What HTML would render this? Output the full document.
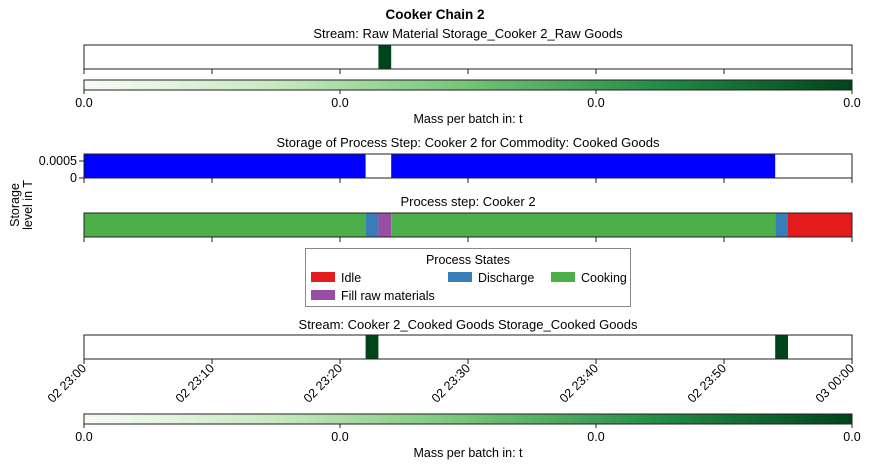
<!DOCTYPE html>
<html><head><meta charset="utf-8"><style>
body{margin:0;background:#fff;font-family:"Liberation Sans",sans-serif}
svg text{font-family:"Liberation Sans",sans-serif;fill:#000}
</style></head><body>
<svg id="c" width="870" height="470" xmlns="http://www.w3.org/2000/svg">
<defs><linearGradient id="g" x1="0" x2="1"><stop offset="0" stop-color="#f7fcf5"/><stop offset="0.25" stop-color="#c7e9c0"/><stop offset="0.5" stop-color="#74c476"/><stop offset="0.75" stop-color="#238b45"/><stop offset="1" stop-color="#00441b"/></linearGradient></defs>
<text x="435" y="19" text-anchor="middle" font-size="13.5" font-weight="bold">Cooker Chain 2</text>
<g id="root"></g>
</svg>
<script>
const rawStream=[[23,24]];
const storageBlocks=[[0,22],[24,54]];
const processSegs=[[0,22,'Cooking'],[22,23,'Discharge'],[23,24,'Fill raw materials'],[24,54,'Cooking'],[54,55,'Discharge'],[55,60,'Idle']];
const cookedStream=[[22,23],[54,55]];
const timeTicks=['02 23:00','02 23:10','02 23:20','02 23:30','02 23:40','02 23:50','03 00:00'];
const cbLabels=['0.0','0.0','0.0','0.0'];
const stateColors={'Idle':'#e41a1c','Discharge':'#377eb8','Cooking':'#4daf4a','Fill raw materials':'#984ea3'};
const X0=84,X1=852,TMAX=60;
const xs=m=>X0+(X1-X0)*m/TMAX;
const NS='http://www.w3.org/2000/svg';
const root=document.getElementById('root');
function mk(t,a,txt){const e=document.createElementNS(NS,t);for(const k in a)e.setAttribute(k,a[k]);if(txt!=null)e.textContent=txt;root.appendChild(e);return e;}
function title(y,s,n){const e=mk('text',{x:468,y:y,'text-anchor':'middle','font-size':13},s);

}
function box(y,h,n){const e=mk('rect',{x:X0,y:y,width:X1-X0,height:h,fill:'none',stroke:'#222','stroke-width':1});

}
function ticks(y){timeTicks.forEach((t,i)=>{const x=X0+(X1-X0)*i/(timeTicks.length-1);mk('line',{x1:x,x2:x,y1:y,y2:y+5,stroke:'#222'});});}
function seg(a,b,y,h,c,n){const e=mk('rect',{x:xs(a),y:y,width:xs(b)-xs(a),height:h,fill:c});

}
function colorbar(y,n){const e=mk('rect',{x:X0,y:y,width:X1-X0,height:10,fill:'url(#g)',stroke:'#222'});


cbLabels.forEach((l,i)=>{const x=X0+(X1-X0)*i/(cbLabels.length-1);mk('line',{x1:x,x2:x,y1:y+10,y2:y+14,stroke:'#222'});const t=mk('text',{x:x,y:y+27,'text-anchor':'middle','font-size':12.5},l);

});
const tt=mk('text',{x:468,y:y+43,'text-anchor':'middle','font-size':12.5},'Mass per batch in: t');

}
title(38,'Stream: Raw Material Storage_Cooker 2_Raw Goods','raw-stream-title');
rawStream.forEach(s=>seg(s[0],s[1],45,24,'#00441b','raw-stream-bar'));
box(45,24,'raw-stream-panel');ticks(69);
colorbar(80,'raw-colorbar');
title(147,'Storage of Process Step: Cooker 2 for Commodity: Cooked Goods','storage-title');
storageBlocks.forEach(s=>seg(s[0],s[1],154,24,'#0000ff','storage-area'));
box(154,24,'storage-panel');ticks(178);
[[0.0005,161],[0,178]].forEach(v=>{mk('line',{x1:79,x2:84,y1:v[1],y2:v[1],stroke:'#222'});const t=mk('text',{x:77,y:v[1]+4,'text-anchor':'end','font-size':12.5},String(v[0]));

});
const yt=mk('text',{x:0,y:0,'text-anchor':'middle','font-size':12.5,transform:'translate(20,205) rotate(-90)'});


yt.innerHTML='<tspan x="0" dy="-1">Storage</tspan><tspan x="0" dy="13">level in T</tspan>';
title(206,'Process step: Cooker 2','process-title');
processSegs.forEach(s=>seg(s[0],s[1],213,24,stateColors[s[2]],'process-state-'+s[2].toLowerCase().replace(/ /g,'-')));
box(213,24,'process-panel');ticks(237);
const lg=mk('rect',{x:305.5,y:248.5,width:325,height:58,fill:'#fff',stroke:'#888'});


const lt=mk('text',{x:468,y:264,'text-anchor':'middle','font-size':12.5},'Process States');


[['Idle',311,272],['Discharge',448,272],['Cooking',551,272],['Fill raw materials',311,290]].forEach(l=>{mk('rect',{x:l[1],y:l[2],width:24,height:10,fill:stateColors[l[0]]});const t=mk('text',{x:l[1]+30,y:l[2]+10,'font-size':12.5},l[0]);

});
title(329,'Stream: Cooker 2_Cooked Goods Storage_Cooked Goods','cooked-stream-title');
cookedStream.forEach(s=>seg(s[0],s[1],335,24,'#00441b','cooked-stream-bar'));
box(335,24,'cooked-stream-panel');ticks(359);
timeTicks.forEach((t,i)=>{const x=X0+(X1-X0)*i/(timeTicks.length-1);const e=mk('text',{x:0,y:0,'text-anchor':'end','font-size':12.5,transform:`translate(${x+3},${369}) rotate(-45)`},t);

});
colorbar(414,'cooked-colorbar');
</script>
</body></html>
